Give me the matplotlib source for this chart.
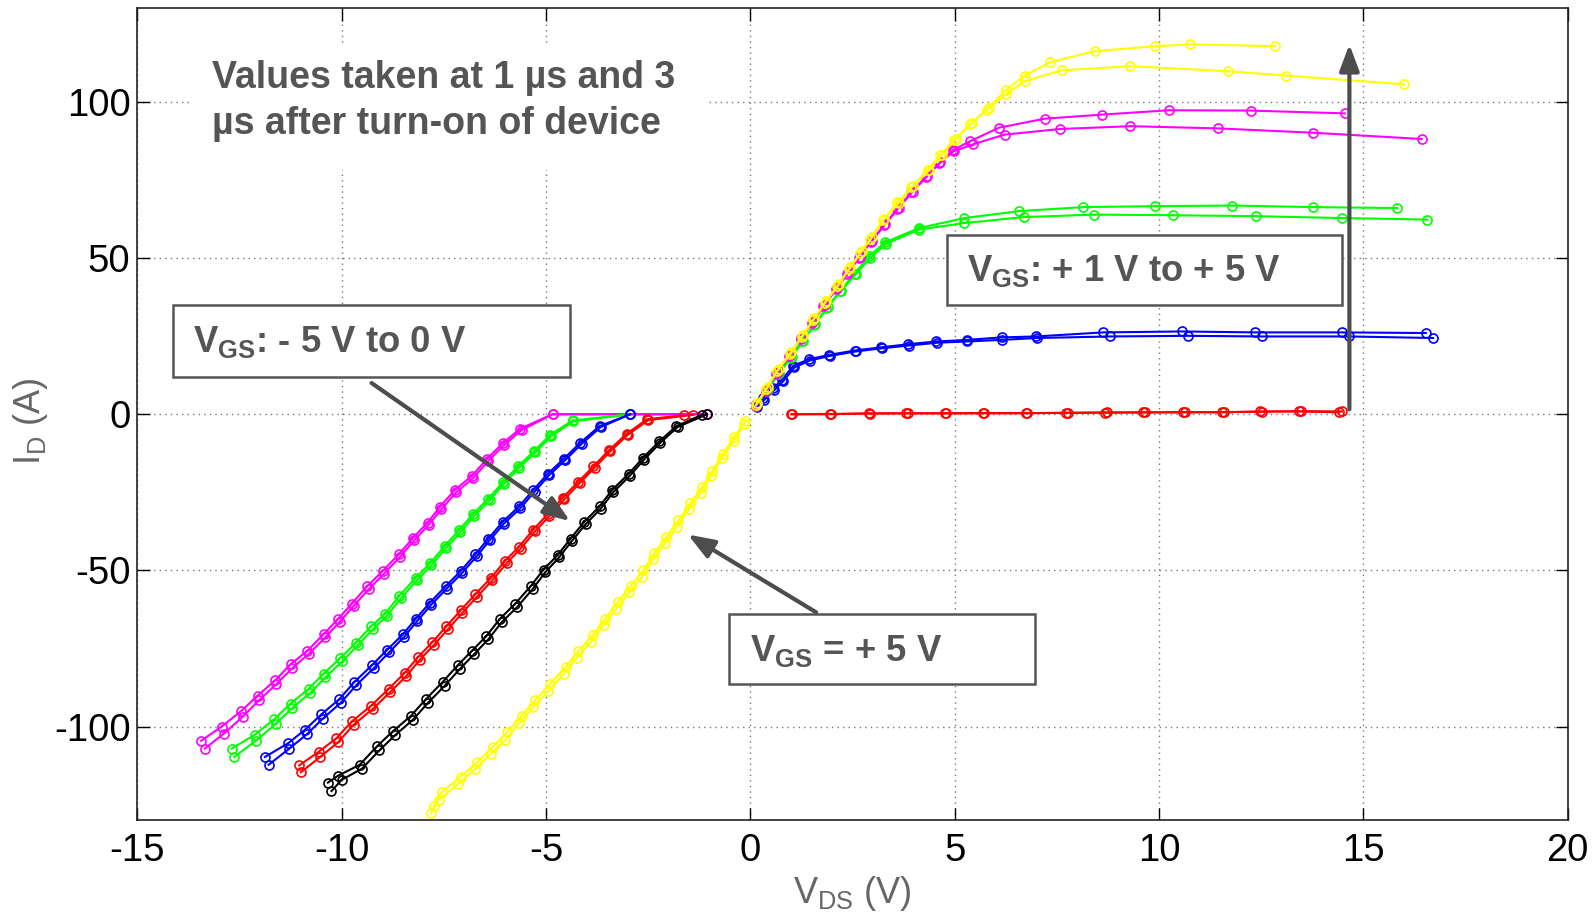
import matplotlib
matplotlib.use("Agg")
import matplotlib.pyplot as plt
from matplotlib.patches import Rectangle

plt.rcParams['font.family'] = ['Liberation Sans', 'DejaVu Sans']
plt.rcParams['axes.unicode_minus'] = False

# ---- third quadrant, V_GS -5 .. 0 V (two traces each: 1 us / 3 us)
neg_mag_x1 = [-13.44, -12.94, -12.46, -12.06, -11.63, -11.25, -10.84, -10.44, -10.09, -9.75, -9.38, -9.00,
              -8.60, -8.25, -7.90, -7.60, -7.23, -6.81, -6.44, -6.06, -5.63, -4.84, -2.94, -1.06]
neg_mag_y1 = [-104.5, -100.0, -95.0, -90.1, -85.2, -80.0, -75.7, -70.4, -65.5, -60.6, -55.1, -50.2,
              -44.8, -39.5, -34.7, -29.7, -24.2, -19.7, -14.2, -9.3, -4.6, 0, 0, 0]
neg_mag_x2 = [-13.35, -12.88, -12.42, -12.02, -11.60, -11.21, -10.80, -10.40, -10.05, -9.71, -9.34, -8.96,
              -8.57, -8.22, -7.87, -7.56, -7.20, -6.78, -6.41, -6.03, -5.60, -4.84, -2.94, -1.06]
neg_mag_y2 = [-107.0, -102.2, -96.8, -91.5, -86.4, -81.3, -76.6, -71.4, -66.4, -61.4, -56.0, -51.0,
              -45.6, -40.3, -35.4, -30.4, -25.0, -20.4, -14.9, -9.9, -5.1, 0, 0, 0]

neg_grn_x1 = [-12.69, -12.13, -11.66, -11.25, -10.81, -10.44, -10.03, -9.65, -9.28, -8.94, -8.59, -8.19,
              -7.84, -7.48, -7.13, -6.79, -6.41, -6.06, -5.69, -5.29, -4.90, -4.35, -2.94]
neg_grn_y1 = [-107.0, -102.6, -97.7, -92.6, -87.9, -83.0, -78.0, -73.1, -67.9, -63.9, -58.1, -52.4,
              -47.7, -42.2, -37.1, -32.0, -27.0, -21.8, -16.7, -11.8, -6.6, -2.0, 0]
neg_grn_x2 = [-12.63, -12.10, -11.62, -11.21, -10.77, -10.40, -9.99, -9.61, -9.24, -8.90, -8.55, -8.16,
              -7.81, -7.45, -7.10, -6.76, -6.38, -6.03, -5.66, -5.26, -4.87, -4.33, -2.94]
neg_grn_y2 = [-109.7, -104.5, -99.2, -94.0, -89.2, -84.2, -79.1, -74.0, -68.8, -64.6, -58.9, -53.2,
              -48.4, -42.9, -37.8, -32.6, -27.6, -22.3, -17.2, -12.2, -7.0, -2.3, 0]

neg_blu_x1 = [-11.88, -11.31, -10.90, -10.50, -10.06, -9.69, -9.25, -8.88, -8.50, -8.19, -7.84, -7.46,
              -7.09, -6.73, -6.41, -6.06, -5.66, -5.31, -4.96, -4.56, -4.16, -3.69, -2.94]
neg_blu_y1 = [-109.7, -105.3, -101.0, -96.1, -91.2, -85.7, -80.2, -75.3, -70.4, -65.5, -60.3, -55.1,
              -50.2, -44.8, -39.8, -34.4, -29.5, -24.2, -19.1, -14.2, -9.1, -3.8, 0]
neg_blu_x2 = [-11.79, -11.28, -10.86, -10.46, -10.02, -9.65, -9.21, -8.84, -8.47, -8.16, -7.81, -7.43,
              -7.06, -6.70, -6.38, -6.03, -5.63, -5.28, -4.93, -4.53, -4.13, -3.66, -2.94]
neg_blu_y2 = [-112.2, -107.0, -102.5, -97.4, -92.3, -86.8, -81.2, -76.2, -71.2, -66.3, -61.0, -55.8,
              -50.9, -45.5, -40.4, -35.0, -30.1, -24.8, -19.6, -14.7, -9.5, -4.1, 0]

neg_red_x1 = [-11.04, -10.56, -10.13, -9.75, -9.28, -8.85, -8.46, -8.13, -7.78, -7.44, -7.09, -6.73,
              -6.35, -6.00, -5.66, -5.31, -4.96, -4.59, -4.21, -3.84, -3.46, -3.03, -2.53, -1.63]
neg_red_y1 = [-112.4, -108.0, -103.7, -98.3, -93.3, -87.9, -82.8, -77.7, -72.9, -67.9, -62.8, -57.6,
              -52.4, -46.9, -42.4, -36.9, -32.0, -26.7, -21.6, -16.7, -11.5, -6.3, -1.6, -0.3]
neg_red_x2 = [-11.00, -10.52, -10.09, -9.71, -9.24, -8.81, -8.42, -8.09, -7.74, -7.40, -7.05, -6.69,
              -6.31, -5.96, -5.62, -5.27, -4.92, -4.55, -4.18, -3.81, -3.43, -3.00, -2.50, -1.40]
neg_red_y2 = [-114.6, -109.6, -105.0, -99.4, -94.3, -88.9, -83.8, -78.6, -73.8, -68.8, -63.6, -58.4,
              -53.1, -47.6, -43.0, -37.5, -32.6, -27.2, -22.1, -17.1, -11.9, -6.6, -1.9, -0.2]

neg_blk_x1 = [-10.34, -10.09, -9.56, -9.13, -8.75, -8.31, -7.94, -7.53, -7.15, -6.81, -6.46, -6.13, -5.75,
              -5.38, -5.06, -4.71, -4.40, -4.06, -3.69, -3.38, -2.98, -2.63, -2.23, -1.81, -1.19]
neg_blk_y1 = [-117.9, -115.7, -112.2, -106.2, -101.5, -96.6, -91.2, -85.7, -80.2, -75.7, -71.0, -65.5, -60.6,
              -55.1, -49.7, -45.0, -39.8, -34.4, -29.5, -24.2, -19.1, -14.0, -8.7, -3.8, -0.2]
neg_blk_x2 = [-10.25, -10.00, -9.50, -9.08, -8.70, -8.26, -7.89, -7.48, -7.10, -6.76, -6.41, -6.08, -5.70,
              -5.33, -5.02, -4.68, -4.37, -4.03, -3.66, -3.35, -2.95, -2.60, -2.20, -1.78, -1.06]
neg_blk_y2 = [-120.6, -117.0, -113.4, -107.6, -102.8, -97.8, -92.4, -86.9, -81.4, -76.8, -72.0, -66.5, -61.6,
              -56.0, -50.6, -45.8, -40.6, -35.2, -30.2, -24.9, -19.7, -14.5, -9.1, -4.1, 0]

# V_GS = +5 V in third quadrant
neg_yel_x1 = [-7.81, -7.63, -7.15, -6.73, -6.35, -6.00, -5.65, -5.31, -4.94, -4.56, -4.25, -3.90, -3.59,
              -3.29, -2.96, -2.65, -2.38, -2.09, -1.79, -1.50, -1.21, -0.96, -0.69, -0.41, -0.15]
neg_yel_y1 = [-127.7, -123.4, -118.4, -113.5, -108.6, -104.3, -98.8, -93.7, -88.6, -83.0, -78.0, -72.9, -67.5,
              -62.4, -57.0, -52.2, -46.4, -41.3, -36.0, -30.3, -25.1, -19.7, -14.0, -8.5, -3.1]
neg_yel_x2 = [-7.75, -7.55, -7.09, -6.68, -6.30, -5.95, -5.60, -5.26, -4.90, -4.52, -4.21, -3.86, -3.55,
              -3.25, -2.93, -2.62, -2.35, -2.06, -1.76, -1.47, -1.18, -0.93, -0.67, -0.39, -0.13]
neg_yel_y2 = [-125.5, -121.0, -116.0, -111.3, -106.4, -101.8, -96.6, -91.5, -86.3, -80.9, -75.9, -70.7, -65.4,
              -60.2, -55.0, -50.0, -44.5, -39.4, -34.0, -28.5, -23.4, -18.1, -12.7, -7.2, -2.2]

# ---- first quadrant, V_GS +1 .. +5 V
pos_red_x1 = [1.00, 1.96, 2.90, 3.82, 4.76, 5.69, 6.74, 7.73, 8.67, 9.62, 10.59, 11.54, 12.48, 13.43, 14.41]
pos_red_y1 = [0.0, 0.0, 0.3, 0.3, 0.3, 0.3, 0.3, 0.5, 0.5, 0.6, 0.6, 0.6, 0.9, 0.9, 0.6]
pos_red_x2 = [1.02, 1.98, 2.93, 3.85, 4.79, 5.72, 6.77, 7.78, 8.72, 9.66, 10.63, 11.58, 12.52, 13.47, 14.48]
pos_red_y2 = [0.0, 0.1, 0.2, 0.3, 0.3, 0.4, 0.4, 0.4, 0.6, 0.6, 0.7, 0.7, 0.8, 1.0, 0.9]

pos_blu_x1 = [0.14, 0.31, 0.56, 0.77, 1.05, 1.43, 1.93, 2.55, 3.19, 3.85, 4.55, 5.31, 6.15, 6.99, 8.64,
              10.56, 12.34, 14.48, 16.53]
pos_blu_y1 = [2.7, 5.1, 8.3, 11.0, 15.5, 17.6, 19.0, 20.4, 21.4, 22.4, 23.3, 23.8, 24.6, 24.9, 26.2,
              26.5, 26.2, 26.2, 26.0]
pos_blu_x2 = [0.16, 0.34, 0.59, 0.80, 1.08, 1.46, 1.96, 2.58, 3.22, 3.88, 4.58, 5.31, 6.15, 7.02, 8.81,
              10.70, 12.52, 14.66, 16.71]
pos_blu_y2 = [2.4, 4.6, 7.8, 10.5, 15.0, 17.2, 18.7, 20.1, 21.1, 22.0, 22.9, 23.3, 23.8, 24.4, 24.9,
              25.1, 24.9, 24.9, 24.4]

pos_grn_x1 = [0.14, 0.40, 0.68, 0.98, 1.27, 1.56, 1.86, 2.20, 2.55, 2.90, 3.29, 4.13, 5.24, 6.57, 8.14,
              9.90, 11.78, 13.78, 15.83]
pos_grn_y1 = [2.7, 7.5, 12.8, 18.0, 23.3, 28.5, 34.0, 39.5, 45.0, 50.5, 55.0, 59.6, 62.8, 65.0, 66.3,
              66.6, 66.8, 66.3, 66.0]
pos_grn_x2 = [0.16, 0.42, 0.71, 1.01, 1.30, 1.59, 1.89, 2.23, 2.58, 2.93, 3.33, 4.13, 5.24, 6.69, 8.42,
              10.35, 12.38, 14.48, 16.57]
pos_grn_y2 = [3.2, 8.0, 13.2, 18.4, 23.6, 28.8, 34.2, 39.6, 44.8, 50.0, 54.6, 59.1, 61.2, 63.1, 63.9,
              63.7, 63.4, 62.8, 62.3]

pos_mag_x1 = [0.14, 0.38, 0.64, 0.95, 1.23, 1.51, 1.79, 2.09, 2.37, 2.65, 2.95, 3.27, 3.60, 3.94, 4.30,
              4.62, 4.95, 5.38, 6.08, 7.20, 8.60, 10.24, 12.24, 14.55]
pos_mag_y1 = [2.7, 7.5, 13.0, 18.5, 24.0, 29.3, 34.6, 40.0, 45.0, 50.0, 55.2, 60.5, 65.8, 71.0, 76.0,
              80.3, 84.5, 87.4, 91.7, 94.6, 95.9, 97.3, 97.2, 96.3]
pos_mag_x2 = [0.15, 0.40, 0.67, 0.97, 1.25, 1.53, 1.82, 2.12, 2.40, 2.68, 2.98, 3.30, 3.63, 3.97, 4.33,
              4.65, 4.98, 5.45, 6.22, 7.58, 9.30, 11.44, 13.78, 16.43]
pos_mag_y2 = [3.2, 8.2, 13.6, 19.0, 24.4, 29.8, 35.0, 40.4, 45.4, 50.4, 55.6, 60.8, 66.0, 71.2, 76.2,
              80.6, 84.2, 86.4, 89.5, 91.3, 92.2, 91.5, 90.1, 88.1]

pos_yel_x1 = [0.14, 0.39, 0.66, 0.98, 1.26, 1.54, 1.82, 2.13, 2.41, 2.69, 2.94, 3.24, 3.64, 3.94, 4.38,
              4.69, 5.03, 5.43, 5.83, 6.25, 6.71, 7.34, 8.43, 9.90, 10.77, 12.84]
pos_yel_y1 = [3.0, 8.0, 14.0, 19.2, 24.7, 30.2, 35.6, 40.9, 46.5, 51.6, 56.1, 62.1, 67.6, 72.6, 78.1,
              83.1, 88.1, 93.3, 98.1, 103.7, 108.4, 112.7, 116.2, 117.8, 118.4, 117.8]
pos_yel_x2 = [0.16, 0.42, 0.70, 1.00, 1.29, 1.57, 1.86, 2.16, 2.45, 2.73, 2.98, 3.28, 3.60, 3.98, 4.34,
              4.65, 4.98, 5.38, 5.78, 6.25, 6.71, 7.62, 9.30, 11.68, 13.12, 15.99]
pos_yel_y2 = [3.5, 8.8, 14.6, 20.0, 25.4, 30.8, 36.3, 41.6, 47.0, 52.2, 56.8, 62.5, 67.8, 73.0, 78.3,
              83.0, 87.8, 92.8, 97.3, 102.4, 106.6, 110.1, 111.4, 109.8, 108.4, 105.6]

x_ticks = [-15, -10, -5, 0, 5, 10, 15, 20]
y_ticks = [-100, -50, 0, 50, 100]

note_text = "Values taken at 1 \u00b5s and 3\n\u00b5s after turn-on of device"
box_neg = r"V$_\mathregular{GS}$: - 5 V to 0 V"
box_pos = r"V$_\mathregular{GS}$: + 1 V to + 5 V"
box_p5 = r"V$_\mathregular{GS}$ = + 5 V"

W, H = 1596, 916
fig = plt.figure(figsize=(W / 100, H / 100), dpi=100)
ax = fig.add_axes([137.4 / W, 1 - 820.4 / H, (1567.6 - 137.4) / W, (820.4 - 8.1) / H])

curves = [
    (neg_mag_x1, neg_mag_y1, neg_mag_x2, neg_mag_y2, '#ff00ff'),
    (neg_grn_x1, neg_grn_y1, neg_grn_x2, neg_grn_y2, '#00ff00'),
    (neg_blu_x1, neg_blu_y1, neg_blu_x2, neg_blu_y2, '#0000ff'),
    (neg_red_x1, neg_red_y1, neg_red_x2, neg_red_y2, '#ff0000'),
    (neg_blk_x1, neg_blk_y1, neg_blk_x2, neg_blk_y2, '#000000'),
    (neg_yel_x1, neg_yel_y1, neg_yel_x2, neg_yel_y2, '#ffff00'),
    (pos_red_x1, pos_red_y1, pos_red_x2, pos_red_y2, '#ff0000'),
    (pos_blu_x1, pos_blu_y1, pos_blu_x2, pos_blu_y2, '#0000ff'),
    (pos_grn_x1, pos_grn_y1, pos_grn_x2, pos_grn_y2, '#00ff00'),
    (pos_mag_x1, pos_mag_y1, pos_mag_x2, pos_mag_y2, '#ff00ff'),
    (pos_yel_x1, pos_yel_y1, pos_yel_x2, pos_yel_y2, '#ffff00'),
]
for x1, y1, x2, y2, c in curves:
    for xs, ys in ((x1, y1), (x2, y2)):
        ax.plot(xs, ys, color=c, lw=1.5, marker='o', ms=6.5, mfc='none', mec=c, mew=1.2, zorder=3)

ax.set_xlim(-15, 20)
ax.set_ylim(-130, 130)
ax.set_xticks(x_ticks)
ax.set_yticks(y_ticks)
ax.grid(True, linestyle=(0, (1, 3)), color='#777777', lw=1.0)
ax.set_axisbelow(True)
ax.tick_params(direction='in', length=9, width=1, top=True, right=True, labelsize=27.5, colors='black')
ax.tick_params(axis='x', pad=9)
ax.tick_params(axis='y', pad=5)
for s in ax.spines.values():
    s.set_linewidth(1.2)
    s.set_color('#222222')

ax.set_xlabel(r"V$_\mathregular{DS}$ (V)", fontsize=26, color='#666666')
ax.xaxis.set_label_coords(0.5, -0.066)
ax.set_ylabel(r"I$_\mathregular{D}$ (A)", fontsize=26, color='#666666')
ax.yaxis.set_label_coords(-0.061, 0.492)

gray = '#555555'

# white patch behind the note (hides grid)
fig.patches.append(Rectangle((191 / W, 1 - 170 / H), (709 - 191) / W, (170 - 43) / H,
                             transform=fig.transFigure, fc='white', ec='none', zorder=1))
fig.text(212 / W, 1 - 100.8 / H, note_text, fontsize=27, fontweight='bold', color=gray,
         ha='left', va='center', linespacing=1.34, zorder=5)

boxes = [
    ((173, 305, 570, 377), (193, 353), box_neg),
    ((947, 235, 1342, 305), (967, 282), box_pos),
    ((729, 614, 1035, 684), (750, 662), box_p5),
]
for (x0, y0, x1, y1), (tx, ty), label in boxes:
    fig.patches.append(Rectangle((x0 / W, 1 - y1 / H), (x1 - x0) / W, (y1 - y0) / H,
                                 transform=fig.transFigure, fc='white', ec=gray, lw=1.8, zorder=4))
    fig.text(tx / W, 1 - ty / H, label, fontsize=26.3, fontweight='bold', color=gray,
             ha='left', va='baseline', zorder=5)

arrow_style = dict(arrowstyle='-|>,head_length=0.8,head_width=0.3', color='#4d4d4d', lw=3,
                   shrinkA=0, shrinkB=0, mutation_scale=20)
ax.annotate('', xy=(-4.41, -34.2), xytext=(-9.27, 10.0), arrowprops=arrow_style, zorder=6)
ax.annotate('', xy=(-1.53, -38.5), xytext=(1.61, -63.4), arrowprops=arrow_style, zorder=6)
ax.annotate('', xy=(14.66, 118.4), xytext=(14.66, 1.6), arrowprops=arrow_style, zorder=6)

fig.savefig("out.png", dpi=100)
